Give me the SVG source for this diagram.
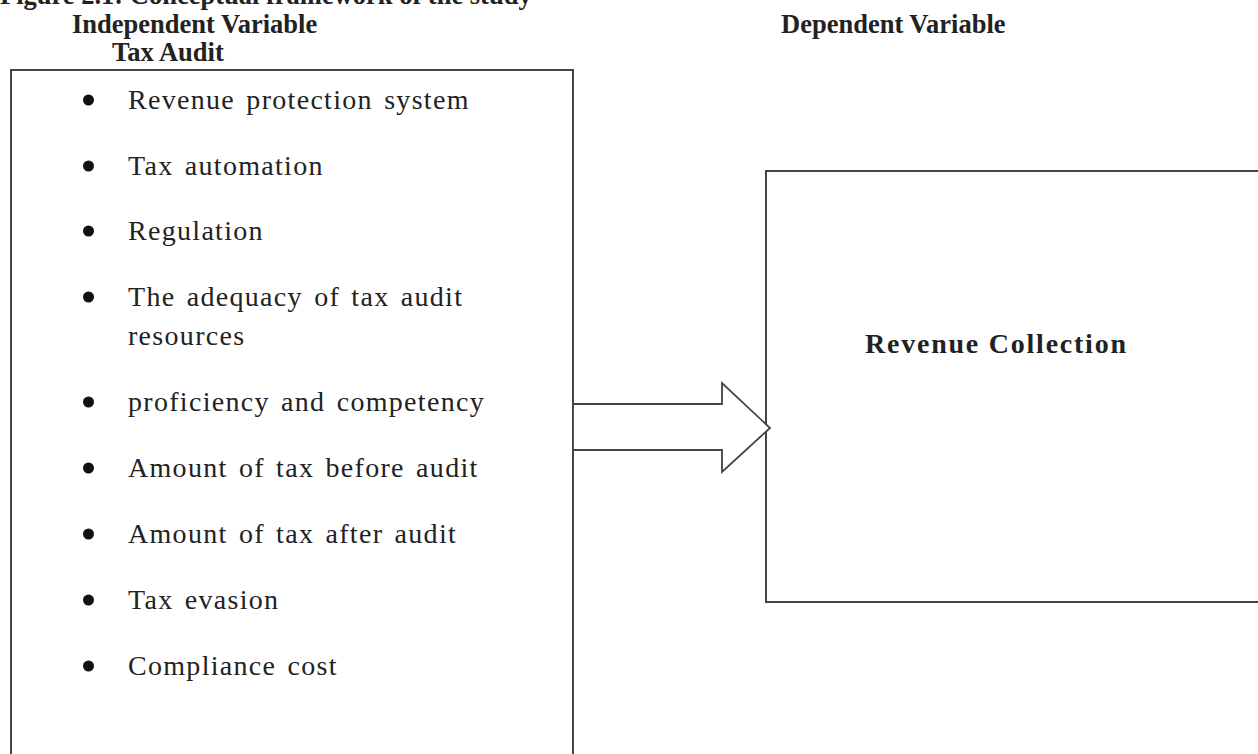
<svg xmlns="http://www.w3.org/2000/svg" width="1258" height="754" viewBox="0 0 1258 754">
<style>
.hd{font-family:"Liberation Serif","Times New Roman",serif;font-weight:bold;font-size:26.5px;fill:#222}
.it{font-family:"Liberation Serif","Times New Roman",serif;font-size:28px;fill:#222;letter-spacing:1.3px;word-spacing:3px}
.box{fill:#fff;stroke:#444;stroke-width:2}
.bul{fill:#111}
.lbl{font-family:"Liberation Serif","Times New Roman",serif;font-weight:bold;font-size:28px;fill:#222}
</style>
<rect width="1258" height="754" fill="#fff"/>
<text class="hd" x="0" y="4">Figure 2.1: Conceptual framework of the study</text>
<text class="hd" x="72" y="33">Independent Variable</text>
<text class="hd" x="112" y="61">Tax Audit</text>
<text class="hd" x="781" y="33">Dependent Variable</text>
<g id="tax-audit">
<rect class="box" x="11" y="70" width="562" height="720"/>
<g id="items">
<circle class="bul" cx="88.5" cy="100" r="5.5"/><text class="it" x="128" y="109">Revenue protection system</text>
<circle class="bul" cx="88.5" cy="166" r="5.5"/><text class="it" x="128" y="175">Tax automation</text>
<circle class="bul" cx="88.5" cy="231" r="5.5"/><text class="it" x="128" y="240">Regulation</text>
<circle class="bul" cx="88.5" cy="297" r="5.5"/><text class="it" x="128" y="306">The adequacy of tax audit</text>
<text class="it" x="128" y="345">resources</text>
<circle class="bul" cx="88.5" cy="402" r="5.5"/><text class="it" x="128" y="411">proficiency  and competency</text>
<circle class="bul" cx="88.5" cy="468" r="5.5"/><text class="it" x="128" y="477">Amount  of tax before audit</text>
<circle class="bul" cx="88.5" cy="534" r="5.5"/><text class="it" x="128" y="543">Amount  of tax after audit</text>
<circle class="bul" cx="88.5" cy="600" r="5.5"/><text class="it" x="128" y="609">Tax evasion</text>
<circle class="bul" cx="88.5" cy="666" r="5.5"/><text class="it" x="128" y="675">Compliance  cost</text>
</g>
</g>
<g id="revenue-collection">
<rect class="box" x="766" y="171" width="600" height="431"/>
<text class="lbl" x="865" y="353" textLength="261" lengthAdjust="spacing">Revenue Collection</text>
</g>
<g id="connectors">
<polygon points="573,404 722,404 722,383 770,428 722,472 722,450 573,450" fill="#fff" stroke="#444" stroke-width="1.8" stroke-linejoin="miter"/>
</g>
</svg>
